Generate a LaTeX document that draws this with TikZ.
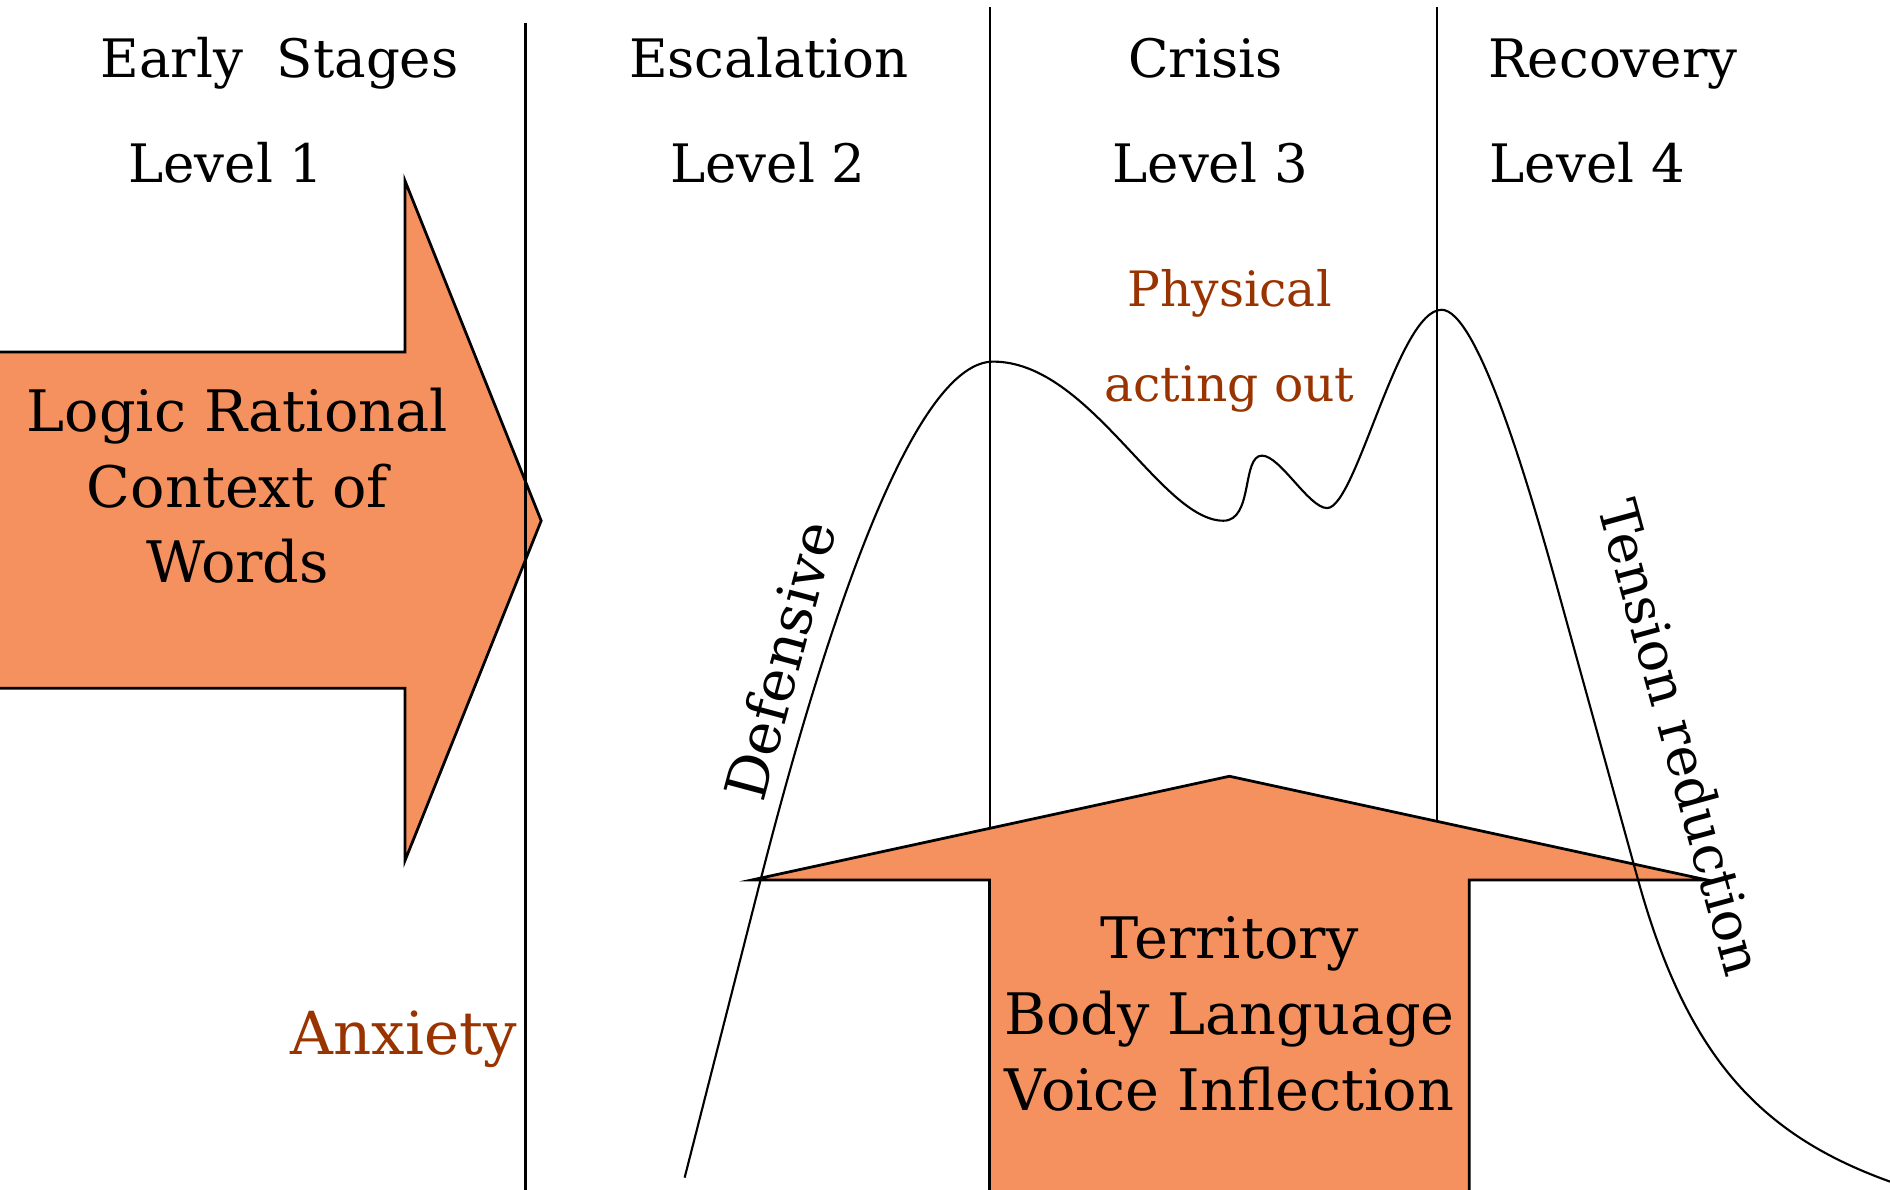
\documentclass[tikz,border=0pt]{standalone}
\usepackage{fontspec}
\setmainfont{DejaVu Serif}
\usepackage{xcolor}
\definecolor{shapefill}{HTML}{F4915E}
\definecolor{rust}{HTML}{993300}

\begin{document}
\begin{tikzpicture}[
  x=0.01cm,y=-0.01cm,
  phase/.style={anchor=base,font=\fontsize{12.5}{15}\selectfont},
  bigarrow/.style={draw=black,fill=shapefill,line width=0.65pt,line join=miter},
  divider/.style={draw=black,line width=0.5pt},
  curve/.style={draw=black,line width=0.5pt},
  inside/.style={align=center,font=\fontsize{13.5}{17.9}\selectfont},
  note/.style={text=rust,align=center,font=\fontsize{11.5}{22.5}\selectfont},
  slope/.style={font=\fontsize{12.7}{15}\selectfont}
]
\useasboundingbox (0,0) rectangle (1568,987);

% arrow to the right, first divider runs over it
\draw[bigarrow] (-5,292) -- (336,292) -- (336,150) -- (449,432) --
  (336,714) -- (336,571) -- (-5,571) -- cycle;
\node[inside] (logic) at (197,403) {Logic Rational\\Context of\\Words};

% dividers between the phases
\draw[divider] (436,19) -- (436,990);
\draw[divider] (821,6) -- (821,990);
\draw[divider] (1192,6) -- (1192,990);

% phase titles and levels
\node[phase] (early) at (232,64) {Early~~Stages};
\node[phase] (escalation) at (638,64) {Escalation};
\node[phase] (crisis) at (1000,64) {Crisis};
\node[phase] (recovery) at (1338,64) {Recovery};
\foreach \x/\n in {187.5/1,637/2,1004/3,1317/4}
  \node[phase] (level\n) at (\x,151) {Level \n};

% arrow pointing up, covers the dividers
\draw[bigarrow] (624,730) -- (1020,644) -- (1416,730) -- (1219,730) --
  (1219,995) -- (821,995) -- (821,730) -- cycle;
\node[inside] (territory) at (1020,841) {Territory\\Body Language\\Voice Inflection};

% the escalation curve
\draw[curve] (568,977) -- (631,730)
  .. controls (695,480) and (764,300) .. (824,300)
  .. controls (904,300) and (963,432) .. (1015,432)
  .. controls (1040,432) and (1030,378) .. (1047,378)
  .. controls (1062,378) and (1086,421.5) .. (1101,421.5)
  .. controls (1125,421.5) and (1160,257) .. (1196,257)
  .. controls (1225,257) and (1266.5,395) .. (1294,495)
  -- (1359,730)
  .. controls (1400.5,880) and (1463,943) .. (1570,981);

% labels along the curve
\node[slope,rotate=75,font=\fontsize{13.5}{16}\selectfont] (defensive) at (647,548) {Defensive};
\node[slope,rotate=-74.7] (tension) at (1395,612) {Tension reduction};
\node[note] (physical) at (1020,283) {Physical\\acting out};
\node[note,font=\fontsize{14}{16}\selectfont] (anxiety) at (335,875) [anchor=base] {Anxiety};
\end{tikzpicture}
\end{document}
